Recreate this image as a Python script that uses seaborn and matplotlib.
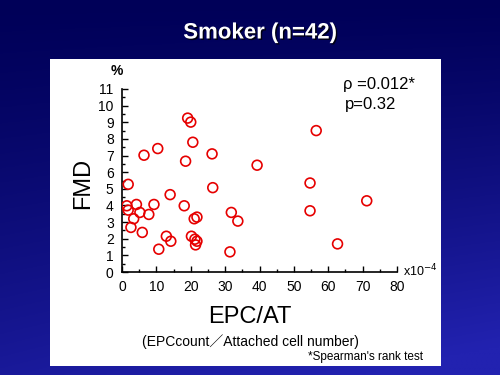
import numpy as np
import pandas as pd
import matplotlib
matplotlib.use("Agg")
import matplotlib.pyplot as plt
import matplotlib.patches as mpatches
import matplotlib.patheffects as pe
import seaborn as sns

# Data
epc_at = [1.8, 1.4, 1.8, 4.2, 5.2, 3.4, 2.6, 5.9, 7.8, 9.3, 6.4, 10.4, 14.0, 10.7,
          12.9, 14.2, 18.1, 18.5, 19.1, 20.0, 20.6, 26.2, 26.4, 21.0, 21.8, 20.2,
          21.2, 21.8, 21.4, 31.8, 33.7, 31.4, 39.3, 56.5, 54.7, 54.7, 71.2, 62.7]
fmd = [5.27, 3.98, 3.72, 4.06, 3.58, 3.2, 2.68, 2.38, 3.46, 4.06, 7.02, 7.42, 4.65, 1.37,
       2.15, 1.85, 3.98, 6.66, 9.25, 9.01, 7.8, 7.1, 5.07, 3.2, 3.3, 2.15,
       1.97, 1.85, 1.63, 3.58, 3.06, 1.21, 6.42, 8.5, 5.35, 3.68, 4.28, 1.69]
x_ticks = [0, 10, 20, 30, 40, 50, 60, 70, 80]
y_ticks = list(range(0, 12))

df = pd.DataFrame({"EPC/AT": epc_at, "FMD": fmd})

sns.set_theme(style="white")
plt.rcParams['font.family'] = ['Liberation Sans', 'DejaVu Sans']

fig = plt.figure(figsize=(5, 3.75), dpi=100)

# gradient background
bg = fig.add_axes([0, 0, 1, 1], zorder=-10)
h, w = 200, 200
yy, xx = np.mgrid[0:1:h*1j, 0:1:w*1j]
t = np.clip(0.75 * yy ** 1.3 + 0.35 * xx * yy, 0, 1)
top = np.array([0x00, 0x00, 0x58]) / 255
bot = np.array([0x22, 0x22, 0xb0]) / 255
img = top[None, None, :] * (1 - t[..., None]) + bot[None, None, :] * t[..., None]
bg.imshow(img, aspect='auto', extent=[0, 1, 0, 1], origin='upper')
bg.axis('off')

# white panel
panel = mpatches.Rectangle((50 / 500, 1 - 366 / 375), (441 - 50) / 500, (366 - 59) / 375,
                           transform=fig.transFigure, facecolor='white', edgecolor='none',
                           zorder=-5)
fig.patches.append(panel)

fig.text(0.52, 1 - 33 / 375, "Smoker (n=42)", color='white', fontsize=16,
         fontweight='bold', ha='center', va='center',
         path_effects=[pe.withSimplePatchShadow(offset=(1, -1), shadow_rgbFace='black', alpha=0.8)])

ax = fig.add_axes([122 / 500, 1 - 272 / 375, (397 - 122) / 500, (272 - 89) / 375])
ax.set_facecolor('none')
sns.scatterplot(data=df, x="EPC/AT", y="FMD", ax=ax, marker='o', s=50,
                facecolor='none', edgecolor='#e60000', linewidth=1.2, zorder=3)
ax.set_xlim(0, 80)
ax.set_ylim(0, 11)
ax.set_xticks(x_ticks)
ax.set_yticks(y_ticks)
ax.set_xticks(np.arange(0, 81, 5), minor=True)
ax.set_yticks(np.arange(0, 11.01, 0.5), minor=True)
for s in ['top', 'right']:
    ax.spines[s].set_visible(False)
for s in ['left', 'bottom']:
    ax.spines[s].set_color('black')
    ax.spines[s].set_linewidth(1.2)
ax.tick_params(axis='both', which='major', direction='in', length=4, width=1,
               labelsize=10, colors='black', pad=6, left=True, bottom=True)
ax.tick_params(axis='both', which='minor', direction='in', length=2, width=1,
               left=True, bottom=True, colors='black')
ax.set_xlabel("")
ax.set_ylabel("")

fig.text(117 / 500, 1 - 71 / 375, "%", fontsize=10, fontweight='bold', ha='center',
         va='center', color='black')
fig.text(83 / 500, 1 - 183 / 375, "FMD", fontsize=17, rotation=90, ha='center',
         va='center', color='black')
fig.text(250 / 500, 1 - 317 / 375, "EPC/AT", fontsize=17, ha='center', va='center',
         color='black')
fig.text(250 / 500, 1 - 342 / 375, "(EPCcount\uff0fAttached cell number)", fontsize=10,
         ha='center', va='center', color='black',
         family=['Liberation Sans', 'Noto Sans CJK JP', 'DejaVu Sans'])
fig.text(423 / 500, 1 - 357 / 375, "*Spearman's rank test", fontsize=8.5, ha='right',
         va='center', color='black')
fig.text(403 / 500, 1 - 271 / 375, r"x10$^{-4}$", fontsize=9, ha='left', va='center',
         color='black')
fig.text(343 / 500, 1 - 85 / 375, "\u03c1 =0.012*", fontsize=12, ha='left',
         va='center', color='black')
fig.text(345 / 500, 1 - 104 / 375, "p=0.32", fontsize=12, ha='left', va='center',
         color='black')

fig.savefig("out.png", dpi=100)
